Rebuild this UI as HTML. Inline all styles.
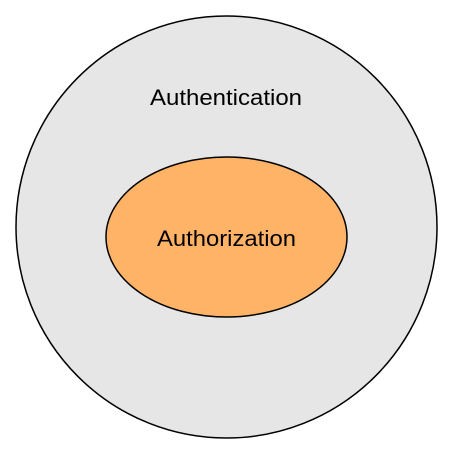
<!DOCTYPE html>
<html><head><style>html,body{margin:0;padding:0;background:#fff;}svg{display:block;}</style></head>
<body>
<svg width="454" height="454" viewBox="0 0 454 454" xmlns="http://www.w3.org/2000/svg">
<ellipse cx="226.5" cy="227" rx="210.5" ry="211" fill="#e6e6e6" stroke="#000" stroke-width="1.5"/>
<ellipse cx="226.5" cy="237" rx="120.5" ry="80" fill="#ffb366" stroke="#000" stroke-width="1.5"/>
<text x="150" y="105" textLength="152" lengthAdjust="spacingAndGlyphs" font-family="Liberation Sans, sans-serif" font-size="22" fill="#000">Authentication</text>
<text x="157" y="246" textLength="139" lengthAdjust="spacingAndGlyphs" font-family="Liberation Sans, sans-serif" font-size="22" fill="#000">Authorization</text>
</svg>
</body></html>
